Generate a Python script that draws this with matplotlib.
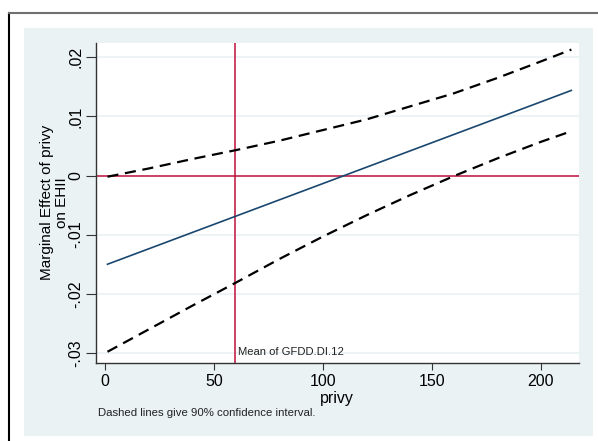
import matplotlib
matplotlib.use("Agg")
import matplotlib.pyplot as plt
from matplotlib.patches import Rectangle
from matplotlib.lines import Line2D

plt.rcParams['font.family'] = ['Liberation Sans', 'DejaVu Sans']

# values
privy = [1, 20, 40, 60, 80, 100, 120, 140, 160, 180, 200, 214]
effect = [-0.0150, -0.01238, -0.00962, -0.00686, -0.0041, -0.00134,
          0.00142, 0.00418, 0.00694, 0.0097, 0.01246, 0.0144]
upper = [-0.0002, 0.0012, 0.0028, 0.0043, 0.0059, 0.0077,
         0.0095, 0.0117, 0.0139, 0.0165, 0.0193, 0.0213]
lower = [-0.0298, -0.0260, -0.0220, -0.0181, -0.0141, -0.0103,
         -0.0067, -0.0033, -0.0001, 0.0029, 0.0057, 0.0075]
mean_x = 59.7
xticks = [0, 50, 100, 150, 200]
yticks = [0.02, 0.01, 0, -0.01, -0.02, -0.03]
ylabels = ['.02', '.01', '0', '-.01', '-.02', '-.03']

W, H = 598, 441
fig = plt.figure(figsize=(W / 100, H / 100), dpi=100)
fig.patch.set_facecolor('white')

# outer frame bits and the light graph region
fig.add_artist(Line2D([9 / W, 9 / W], [0, (H - 13) / H], color='black', lw=1.5))
fig.add_artist(Line2D([9 / W, 1], [(H - 13) / H, (H - 13) / H], color='#707070', lw=1.5))
fig.add_artist(Rectangle((24 / W, (H - 436) / H), (593 - 24) / W, (436 - 28) / H,
                         facecolor='#eaf2f3', edgecolor='none', zorder=0))

ax = fig.add_axes([95.5 / W, (H - 363) / H, (579 - 95.5) / W, (363 - 42.5) / H])
ax.set_facecolor('white')
ax.set_xlim(-4.5, 217.5)
ax.set_ylim(-0.0317, 0.0225)

for y in yticks:
    ax.axhline(y, color='#eaf2f3', lw=1.2, zorder=0)

red = '#c0103c'
ax.axhline(0, color=red, lw=1.1, zorder=2)
ax.axvline(mean_x, color=red, lw=1.1, zorder=2)

ax.plot(privy, effect, color='#1a476f', lw=1.2, zorder=3)
ax.plot(privy, upper, color='black', lw=1.6, dashes=(5, 3), zorder=3)
ax.plot(privy, lower, color='black', lw=1.6, dashes=(5, 3), zorder=3)

ax.text(mean_x + 1.2, -0.0304, 'Mean of GFDD.DI.12', fontsize=8.1,
        color='#222222', va='baseline', ha='left')

for s in ['top', 'right']:
    ax.spines[s].set_visible(False)
for s in ['left', 'bottom']:
    ax.spines[s].set_color('#333333')
    ax.spines[s].set_linewidth(1.0)

ax.set_xticks(xticks)
ax.set_xticklabels([str(t) for t in xticks], fontsize=11.5)
ax.set_yticks(yticks)
ax.set_yticklabels(ylabels, fontsize=11.5, rotation=90, va='center')
ax.tick_params(axis='x', length=5, width=0.8, color='#333333', pad=3)
ax.tick_params(axis='y', length=7, width=0.8, color='#333333', pad=2)

ax.set_xlabel('privy', fontsize=11.5, labelpad=1)
ax.set_ylabel('Marginal Effect of privy\non EHII', fontsize=11, linespacing=1.05)
ax.yaxis.set_label_coords(-0.055, 0.5)

fig.text(98 / W, (H - 416) / H, 'Dashed lines give 90% confidence interval.',
         fontsize=8.2, color='#222222', ha='left', va='baseline')

fig.savefig('out.png', dpi=100)
